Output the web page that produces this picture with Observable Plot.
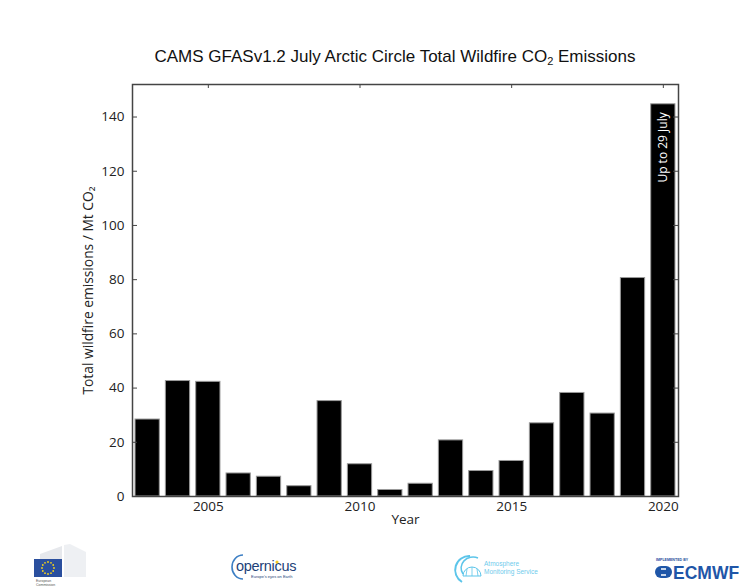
<!DOCTYPE html>
<html><head><meta charset="utf-8">
<script src="https://cdn.jsdelivr.net/npm/d3@7"></script>
<script src="https://cdn.jsdelivr.net/npm/@observablehq/plot@0.6"></script>
<style>
body{margin:0;background:#fff;}
#wrap{position:relative;width:751px;height:588px;overflow:hidden;background:#fff;}
#title{position:absolute;left:0;width:790px;top:47px;line-height:20px;text-align:center;font-family:"Liberation Sans",Arial,sans-serif;font-size:17px;color:#111;white-space:nowrap;}
#title sub{font-size:11px;vertical-align:-3px;line-height:0;}
#chart{position:absolute;left:0;top:0;}
#footer{position:absolute;left:0;top:540px;}
</style>
</head><body>
<div id="wrap">
  <div id="chart"></div>
  <div id="title">CAMS GFASv1.2 July Arctic Circle Total Wildfire CO<sub>2</sub> Emissions</div>
  <svg id="footer" width="751" height="48" font-family="Liberation Sans, Arial, sans-serif">
    <!-- European Commission -->
    <polygon points="40,14 62,6 62,37 40,37" fill="#e6e8ec"/>
    <polygon points="64,5 70,4 86,12 86,37 64,37" fill="#eef0f3"/>
    <rect x="34" y="19" width="28" height="18" fill="#2a4f9e"/>
    <g fill="#f4d21c">
      <circle cx="48" cy="22" r="0.9"/><circle cx="51" cy="22.8" r="0.9"/><circle cx="53.2" cy="25" r="0.9"/>
      <circle cx="54" cy="28" r="0.9"/><circle cx="53.2" cy="31" r="0.9"/><circle cx="51" cy="33.2" r="0.9"/>
      <circle cx="48" cy="34" r="0.9"/><circle cx="45" cy="33.2" r="0.9"/><circle cx="42.8" cy="31" r="0.9"/>
      <circle cx="42" cy="28" r="0.9"/><circle cx="42.8" cy="25" r="0.9"/><circle cx="45" cy="22.8" r="0.9"/>
    </g>
    <text x="36" y="42" font-size="3.5" fill="#555">European</text>
    <text x="36" y="46" font-size="3.5" fill="#555">Commission</text>
    <!-- Copernicus -->
    <path d="M243,15 A11,12 0 1 0 243,39" fill="none" stroke="#3d7fc4" stroke-width="1.6"/>
    <text x="236" y="31" font-size="14.5" fill="#1d3f78" letter-spacing="-0.3">opernicus</text>
    <circle cx="277" cy="22" r="1.6" fill="#f4c820"/>
    <text x="251" y="37.5" font-size="4" fill="#1d3f78">Europe's eyes on Earth</text>
    <!-- Atmosphere Monitoring Service -->
    <path d="M470,16 A14,14 0 0 0 462,42" fill="none" stroke="#5cc5ea" stroke-width="2"/>
    <path d="M478,18 A12,11 0 0 0 463,34" fill="none" stroke="#5cc5ea" stroke-width="1.5"/>
    <path d="M463,36 A9,9 0 0 1 481,36 Z" fill="none" stroke="#5cc5ea" stroke-width="1"/>
    <path d="M472,27 L472,36 M467,29 L466,36 M477,29 L478,36" stroke="#5cc5ea" stroke-width="0.8"/>
    <text x="484" y="26" font-size="6.5" fill="#6fcbec">Atmosphere</text>
    <text x="484" y="34" font-size="6.5" fill="#6fcbec">Monitoring Service</text>
    <!-- ECMWF -->
    <text x="656" y="21" font-size="3.6" fill="#1f4e9c" font-weight="bold">IMPLEMENTED BY</text>
    <rect x="655" y="26" width="17" height="12" rx="6" fill="#1f56a8"/>
    <path d="M661,29 h5 M661,35 h5" stroke="#fff" stroke-width="1.6"/>
    <text x="673" y="39" font-size="17.5" font-weight="bold" fill="#1f56a8">ECMWF</text>
  </svg>
</div>
<script>
// Data
const years = [2003, 2004, 2005, 2006, 2007, 2008, 2009, 2010, 2011, 2012, 2013, 2014, 2015, 2016, 2017, 2018, 2019, 2020];
const emissions = [28.4, 42.6, 42.3, 8.5, 7.3, 3.8, 35.2, 11.9, 2.4, 4.7, 20.7, 9.4, 13.1, 27.0, 38.2, 30.6, 80.6, 144.7];
const yTicks = [0, 20, 40, 60, 80, 100, 120, 140];
const xTicks = [2005, 2010, 2015, 2020];
const xLabel = "Year";
const yLabel = "Total wildfire emissions / Mt CO₂";
const noteYear = 2020;
const noteText = "Up to 29 July";

const data = years.map((year, i) => ({year, value: emissions[i]}));
const note = data.filter(d => d.year === noteYear).map(d => ({...d, text: noteText}));

const W = 751, H = 540, mL = 132, mR = 73, mT = 84, mB = 44;
const fw = W - mL - mR, fh = H - mT - mB;
const axisColor = "#444";

const chart = Plot.plot({
  width: W, height: H,
  marginLeft: mL, marginRight: mR, marginTop: mT, marginBottom: mB,
  style: {fontFamily: "'Open Sans', sans-serif", fontSize: "13.5px", color: "#222", background: "#fff"},
  x: {type: "linear", domain: [2002.5, 2020.5], ticks: xTicks, tickFormat: d => String(d)},
  y: {domain: [0, 152], ticks: yTicks},
  marks: [
    Plot.rectY(data, {x1: d => d.year - 0.4, x2: d => d.year + 0.4, y: "value", fill: "black", stroke: "#9a9a9a", strokeWidth: 1}),
    Plot.text(note, {x: "year", y: "value", text: "text", rotate: -90, textAnchor: "end", fill: "white", fontSize: 12, dy: 8}),
    Plot.tickY(yTicks, {y: d => d, stroke: axisColor, strokeWidth: 1, insetRight: fw - 5}),
    Plot.tickY(yTicks, {y: d => d, stroke: axisColor, strokeWidth: 1, insetLeft: fw - 5}),
    Plot.tickX(xTicks, {x: d => d, stroke: axisColor, strokeWidth: 1, insetBottom: fh - 4}),
    Plot.frame({stroke: axisColor, strokeWidth: 1.5}),
    Plot.axisY({ticks: yTicks, tickSize: 0, tickPadding: 8, label: null}),
    Plot.axisX({ticks: xTicks, tickSize: 0, tickPadding: 4.5, label: null, tickFormat: d => String(d)}),
    Plot.text([xLabel], {text: d => d, frameAnchor: "bottom", dy: 27, fontSize: 13.5, fill: "#222"}),
    Plot.text([yLabel], {text: d => d, frameAnchor: "left", textAnchor: "middle", rotate: -90, dx: -44, fontSize: 13.8, fill: "#222"})
  ]
});
document.getElementById("chart").appendChild(chart);
</script>
</body></html>
